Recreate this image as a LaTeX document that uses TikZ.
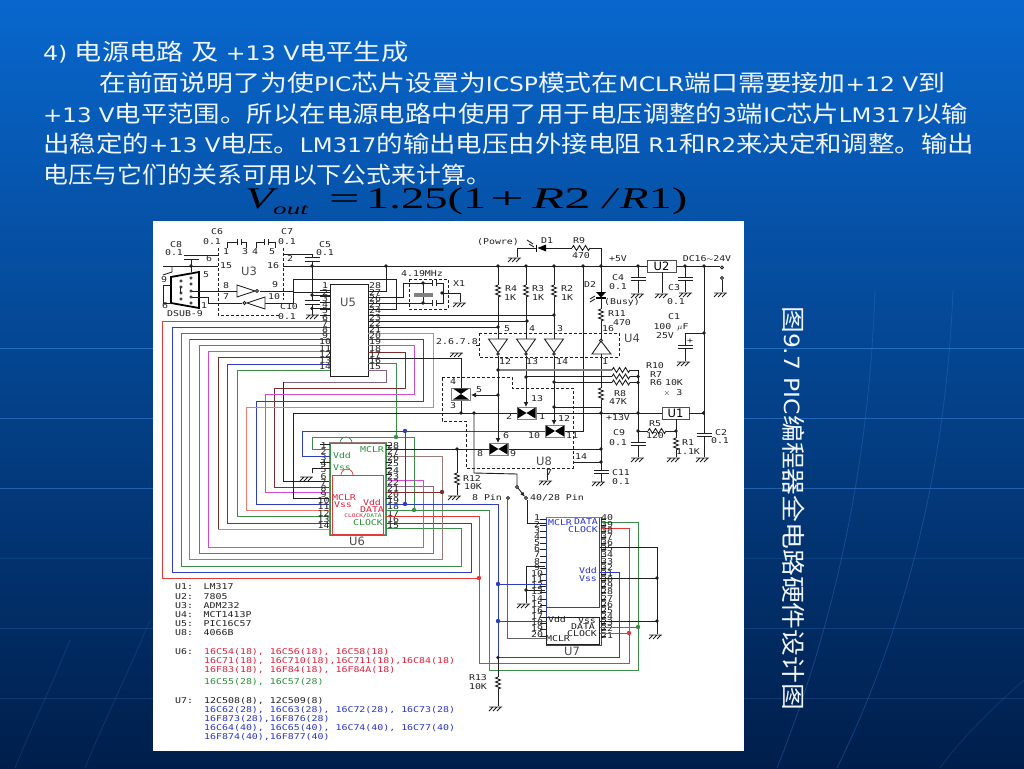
\documentclass[tikz,border=0pt]{standalone}
\usepackage{fontspec}
\usetikzlibrary{arrows.meta}
\setmainfont{DejaVu Sans}
\newfontfamily\cjk{Noto Sans CJK SC}
\newfontfamily\schfont[FakeStretch=1.24]{DejaVu Sans Mono}
\newfontfamily\formfont{Liberation Serif}
\newcommand\zh[1]{{\cjk\fontsize{23}{25}\selectfont #1}}
\newcounter{lb}
\definecolor{wred}{HTML}{E23A3A}
\definecolor{wsalmon}{HTML}{EE7A6E}
\definecolor{wblue}{HTML}{2E3CC0}
\definecolor{wgreen}{HTML}{3A8E48}
\definecolor{wbrown}{HTML}{7A2E2E}
\definecolor{wmauve}{HTML}{8A6488}
\definecolor{wtan}{HTML}{9A7A78}
\definecolor{wmag}{HTML}{D24AD2}
\definecolor{wdark}{HTML}{202020}
\definecolor{tred}{HTML}{E0203C}
\definecolor{tgreen}{HTML}{2A9038}
\definecolor{tblue}{HTML}{2A34C8}
\definecolor{slidetxt}{HTML}{F0F5FB}
\tikzset{
  wire/.style={line width=0.9pt,draw=wdark},
  cw/.style={line width=0.95pt,draw=#1},
  dashbox/.style={line width=0.8pt,draw=wdark,dash pattern=on 3pt off 2pt},
  lbl/.style={font=\schfont\fontsize{8}{8}\selectfont,text=wdark,inner sep=0pt},
  biglbl/.style={font=\fontsize{11.5}{12}\selectfont,text=wdark!80,inner sep=0pt},
  slideline/.style={anchor=base west,inner sep=0pt,text=slidetxt,font=\fontsize{20}{24}\selectfont},
  formula/.style={anchor=base west,inner sep=0pt,text=black,font=\formfont\fontsize{30}{32}\selectfont},
  resv/.pic={\draw[wire] (0,0)--(-2.5,1)--(2.5,3)--(-2.5,5)--(2.5,7)--(-2.5,9)--(2.5,11)--(0,12);},
  resh/.pic={\draw[wire] (0,0)--(1.5,-2.5)--(4.5,2.5)--(7.5,-2.5)--(10.5,2.5)--(13.5,-2.5)--(16.5,2.5)--(18,0);},
  gnd/.pic={\draw[wire] (-6,0)--(7,0) (-6,4)--(-2,0) (-2,4)--(2,0) (2,4)--(6,0);},
  bowh/.pic={\draw[line width=0.8pt,draw=gray,fill=white] (-9.5,-6)rectangle(9.5,6);
     \fill[black] (-9,-5.5)--(0,0)--(-9,5.5)--cycle (9,-5.5)--(0,0)--(9,5.5)--cycle;},
  bowv/.pic={\draw[line width=0.8pt,draw=gray,fill=white] (-9.5,-6)rectangle(9.5,6);
     \fill[black] (-8,-5.5)--(0,0)--(8,-5.5)--cycle (-8,5.5)--(0,0)--(8,5.5)--cycle;},
}
\newcommand\lab[3]{\stepcounter{lb}\node[lbl,name=t\arabic{lb}] at (#1,{#2}) {#3};}
\newcommand\labw[4][wdark]{\stepcounter{lb}\node[lbl,anchor=west,text=#1,name=t\arabic{lb}] at (#2,#3) {#4};}
\newcommand\labc[4]{\stepcounter{lb}\node[lbl,text=#1,name=t\arabic{lb}] at (#2,#3) {#4};}
\newcommand\blab[3]{\stepcounter{lb}\node[biglbl,name=t\arabic{lb}] at (#1,#2) {#3};}
\newcommand\capH[3]{\draw[wire] (#1-7.5,#2)--(#1+7.5,#2) (#1-7.5,#3)--(#1+7.5,#3);}
\newcommand\jn[1]{\foreach \p in {#1} \fill[wdark] \p circle (1.9);}
\begin{document}
\begin{tikzpicture}[x=1pt,y=-1pt]
\useasboundingbox (0,0) rectangle (1024,768);
% slide background
\shade[top color={rgb,255:red,8;green,103;blue,205},middle color={rgb,255:red,0;green,80;blue,160},bottom color={rgb,255:red,0;green,30;blue,75}] (0,0) rectangle (1024,768);
\foreach \yy/\cc/\oo in {348/2F7FD6/0.7,418/2A78CC/0.7,488/2A74C8/0.7,558/1E5C9E/0.4,628/1E5A96/0.5,698/1C5288/0.5}{
  \definecolor{lc}{HTML}{\cc}
  \draw[line width=0.9pt,draw=lc,opacity=\oo] (0,\yy)--(1024,\yy);}
\definecolor{lc}{HTML}{2A74C4}
\draw[line width=0.8pt,draw=lc,opacity=0.4] (875,290) .. controls (868,500) and (820,660) .. (777,768);
\draw[line width=0.8pt,draw=lc,opacity=0.4] (953,290) .. controls (945,500) and (890,660) .. (837,768);
\draw[line width=0.8pt,draw=lc,opacity=0.25] (1024,680) .. controls (990,710) and (960,740) .. (940,768);
\draw[line width=0.8pt,draw=lc,opacity=0.25] (150,620) .. controls (125,680) and (100,730) .. (85,768);
\draw[line width=0.8pt,draw=lc,opacity=0.25] (70,640) .. controls (50,690) and (30,730) .. (15,768);
% slide text
\node[slideline,name=s1] at (43,60) {\resizebox{365pt}{\height}{4) \zh{电源电路} \zh{及} +13 V\zh{电平生成}}};
\node[slideline,name=s2] at (99,91) {\resizebox{846pt}{\height}{\zh{在前面说明了为使}PIC\zh{芯片设置为}ICSP\zh{模式在}MCLR\zh{端口需要接加}+12 V\zh{到}}};
\node[slideline,name=s3] at (43,122) {\resizebox{925pt}{\height}{+13 V\zh{电平范围。所以在电源电路中使用了用于电压调整的}3\zh{端}IC\zh{芯片}LM317\zh{以输}}};
\node[slideline,name=s4] at (43,152.5) {\resizebox{931pt}{\height}{\zh{出稳定的}+13 V\zh{电压。}LM317\zh{的输出电压由外接电阻} R1\zh{和}R2\zh{来决定和调整。输出}}};
\node[slideline,name=s5] at (43,183) {\resizebox{448pt}{\height}{\zh{电压与它们的关系可用以下公式来计算。}}};
% formula
\node[formula,name=f1] at (245,208) {\scalebox{1.55}[1]{\itshape V}};
\node[formula,name=f2,font=\formfont\itshape\fontsize{16}{18}\selectfont] at (273,214) {\scalebox{1.7}[1]{out}};
\node[formula,name=f3] at (329,208) {\scalebox{1.8}[1]{=}};
\node[formula,name=f4] at (366,208) {\scalebox{1.55}[1]{1.25(1}};
\node[formula,name=f5] at (490,208) {\scalebox{2.0}[1]{+}};
\node[formula,name=f6] at (532,208) {\scalebox{1.75}[1]{{\itshape R}2}};
\node[formula,name=f7] at (603,208) {\scalebox{1.55}[1]{\itshape /}};
\node[formula,name=f8] at (620,208) {\scalebox{1.55}[1]{{\itshape R}1)}};
% vertical caption
\node[rotate=-90,anchor=west,inner sep=0pt,text=slidetxt,font=\fontsize{21}{24}\selectfont,name=cap] at (794,306) {\resizebox{404pt}{\height}{{\cjk\fontsize{24}{26}\selectfont 图}9.7 PIC{\cjk\fontsize{24}{26}\selectfont 编程器全电路硬件设计图}}};
% panel
\fill[white] (153,221) rectangle (744,751);

% ---- ICs
\node[draw=wdark,line width=0.9pt,minimum width=38pt,minimum height=92pt,inner sep=0pt,fill=white,name=U5] at (349,330) {};
\blab{348}{302}{U5}
\foreach \i in {1,...,5}{\draw[wire] (320,{290.7+6.1*(\i-1)})--(330,{290.7+6.1*(\i-1)});}
\draw[wire] (368,291)--(378,291);
% left side wires
\draw[cw=wred] (330,321)--(162,321)--(162,578)--(479,578);
\draw[cw=wblue] (330,327.3)--(172,327.3)--(172,572)--(471,572)--(471,523)--(386,523);
\draw[cw=wgreen] (330,333.3)--(181,333.3)--(181,566)--(461,566)--(461,528.5)--(386,528.5);
\draw[cw=wbrown] (330,339.3)--(189,339.3);
\draw[cw=wtan] (189,339.3)--(189,559)--(442,559)--(442,456)--(386,456);
\draw[cw=wmauve] (330,345.7)--(199,345.7)--(199,553)--(433,553)--(433,486)--(386,486);
\draw[cw=wmag] (330,351.7)--(208,351.7)--(208,547)--(423,547)--(423,480)--(386,480);
\draw[cw=wbrown] (330,357.7)--(218,357.7)--(218,529);
\draw[cw=wsalmon] (218,529)--(330,529);
\draw[cw=wblue] (330,364)--(227,364)--(227,523)--(330,523);
\draw[cw=wgreen] (330,370)--(237,370)--(237,516)--(330,516);
% U5 right side wires to U6
\draw[cw=wgreen] (368,363.5)--(396,363.5)--(396,437);
\draw[cw=wmauve] (368,370)--(386,370)--(386,382)--(283,382);
\draw[wire] (283,382)--(283,481)--(330,481);
\draw[cw=wbrown] (368,352)--(405,352)--(405,388)--(274,388)--(274,487)--(330,487);
\draw[cw=wmag] (368,345)--(414,345)--(414,394)--(265,394)--(265,492.5)--(330,492.5);
\draw[cw=wblue] (368,339)--(423,339)--(423,401)--(256,401)--(256,504)--(330,504);
\draw[cw=wsalmon] (368,333)--(433,333)--(433,407)--(246,407)--(246,510)--(330,510);
\draw[wire] (330,498)--(293,498)--(293,413)--(662,413);
\draw[wire] (368,358)--(461,358)--(461,388);
\draw[wire] (368,315)--(554,315) (368,321)--(527,321) (368,327)--(498,327);
% U6
\node[draw=wtan,line width=1.3pt,minimum width=56pt,minimum height=92pt,inner sep=0pt,fill=white,name=U6] at (358,489) {};
\draw[line width=0.9pt,draw=wgreen] (330,443)--(386,443)--(386,535)--(330,535)--cycle;
\draw[line width=1pt,draw=wred] (332,475)--(383.5,475)--(383.5,534)--(332,534)--cycle;
\draw[line width=0.7pt,draw=wgreen] (352,443) arc (180:0:-6) ;
\draw[line width=0.7pt,draw=wred] (353,475) arc (180:0:-6);
\foreach \i in {1,...,14}{\lab{323.5}{445.5+6.15*(\i-1)}{\i}}
\foreach \i in {28,27,...,15}{\lab{393}{445.5+6.15*(28-\i)}{\i}}
\foreach \yy in {445.5,462,468,474,498}{\draw[wire] (386,\yy)--(392,\yy);}
\foreach \yy in {444,462}{\draw[wire] (320,\yy)--(330,\yy);}
\labc{tgreen}{372}{450}{MCLR}
\labc{tgreen}{342}{456}{Vdd}
\labc{tgreen}{342}{468}{Vss}
\labc{tred}{344}{498}{MCLR}
\labc{tred}{343}{505}{Vss}
\labc{tred}{372}{503}{Vdd}
\labc{tred}{372}{510}{DATA}
\stepcounter{lb}\node[lbl,name=t\arabic{lb},font=\schfont\fontsize{5}{5}\selectfont] at (363,516) {\textcolor{tred}{CLOCK}/\textcolor{tgreen}{DATA}};
\labc{tgreen}{368}{523}{CLOCK}
\blab{357}{541}{U6}
% U6 left / right wires
\draw[cw=wgreen] (330,449)--(312,449)--(312,437)--(414,437)--(414,510);
\draw[cw=wblue] (330,456)--(302,456)--(302,431)--(545,431);
\draw[cw=wblue] (405,431)--(405,504);
\draw[wire] (330,468)--(312,468)--(312,473);
\pic at (306,477) {gnd};
\draw[wire] (386,449)--(601,449);
\draw[cw=wbrown] (386,492)--(442,492);
\draw[cw=wblue] (386,504)--(498,504)--(498,657);
\draw[cw=wgreen] (386,510.5)--(489,510.5)--(489,670)--(638,670)--(638,522.7)--(600,522.7);
\draw[cw=wred] (386,516.5)--(479,516.5)--(479,663)--(629,663)--(629,528.5)--(600,528.5);
\foreach \p/\c in {(396,437)/wgreen,(414,510)/wgreen,(405,431)/wblue,(405,504)/wblue,(442,492)/wbrown,(479,578)/wred}{\fill[\c] \p circle (2.2);}
% U5 pin labels
\foreach \i in {1,...,14}{\lab{325}{286+6.23*(\i-1)}{\i}}
\foreach \i in {28,27,...,15}{\lab{375}{286+6.23*(28-\i)}{\i}}
% DSUB + U3
\draw[black,line width=1.8pt,fill=white] (171,277)--(199,272)--(199,308)--(171,303)--cycle;
\foreach \yy in {278,284,291,297,303}{\draw[line width=0.5pt,fill=white] (191,\yy) circle (1.3);}
\foreach \yy in {281,287,293,299}{\draw[line width=0.5pt,fill=white] (181,\yy) circle (1.3);}
\draw[wire] (180,287)--(180,293) (171,285)--(163,285)--(163,303)--(171,303);
\draw[dashbox] (218,248)--(218,315)--(280,315) (283,248)--(283,300);
\lab{217}{232}{C6}\lab{212}{242}{0.1}\lab{287}{232}{C7}\lab{287}{242}{0.1}
\lab{176}{245}{C8}\lab{174}{253}{0.1}\lab{325}{245}{C5}\lab{325}{253}{0.1}
\lab{226}{252}{1}\lab{245}{252}{3}\lab{255}{252}{4}\lab{272}{252}{5}
\lab{290}{259}{2}\lab{209}{259}{6}\lab{226}{266}{15}\lab{273}{266}{16}
\blab{249}{271}{U3}
\lab{226}{286}{8}\lab{275}{285}{9}\lab{226}{297}{7}\lab{274}{297}{10}
\lab{289}{307}{C10}\lab{287}{317}{0.1}\lab{185}{314}{DSUB-9}
\lab{206}{275}{5}\lab{164}{280}{9}\lab{165}{306}{6}\lab{204}{306}{1}
% C6 C7
\draw[wire] (227,248)--(227,242)--(237,242) (237,239)--(237,245) (241,239)--(241,245) (241,242)--(246,242)--(246,248);
\draw[wire] (256,248)--(256,242)--(264,242) (264,239)--(264,245) (268,239)--(268,245) (268,242)--(275,242)--(275,248);
% C8
\capH{191}{255}{259}
\draw[wire] (191,255)--(218,255) (191,259)--(191,272);
\draw[wire] (163,266)--(218,266);
\draw[wire] (172,266)--(172,272) (163,275)--(172,272);
% inverters
\draw[wire] (192,291)--(237,291) (260,291)--(293,291)--(293,279)--(396,279)--(396,309)--(368,309);
\draw[wire,fill=white] (237,285)--(237,297)--(255,291)--cycle;
\draw[wire,fill=white] (257,291) circle (1.5);
\draw[wire] (192,297)--(208,297)--(208,303)--(242,303) (265,303)--(293,303)--(293,292)--(330,292);
\draw[wire,fill=white] (265,297)--(265,309)--(247,303)--cycle;
\draw[wire,fill=white] (244.5,303) circle (1.5);
% C5 C10
\draw[wire] (283,254)--(312,254)--(312,257);
\capH{312}{257}{261}
\draw[wire] (312,261)--(312,300);
\capH{312}{300}{304}
\draw[wire] (312,304)--(312,315);
\pic at (312,315) {gnd};
\draw[wire] (312,295)--(330,295) (312,308.5)--(330,308.5);
\draw[wire] (283,266)--(720,266);
\draw[wire] (386,266)--(386,291)--(368,291);
\jn{(191,266),(312,266),(312,295),(312,308.5),(386,266)}
% crystal
\draw[dashbox] (409,279) rectangle (448,309);
\lab{422}{274}{4.19MHz}
\draw[wire] (368,297)--(403,297)--(403,283)--(424,283);
\draw[wire] (368,303)--(424,303);
\draw[wire] (423,283)--(423,303);
\fill[gray] (414,293) rectangle (433,297);
\draw[wire] (423,283)--(432,283) (432,280)--(432,286) (436,280)--(436,286) (436,283)--(443,283)--(443,303)--(436,303) (436,300)--(436,306) (432,300)--(432,306) (432,303)--(423,303);
\draw[wire] (443,293)--(460,293)--(460,302);
\pic at (459,303) {gnd};
\jn{(423,283),(423,303),(442,293)}
\lab{459}{284}{X1}
% +5V section
\lab{498}{242}{(Powre)}\lab{547}{241}{D1}\lab{579}{241}{R9}\lab{581}{256}{470}\lab{618}{259}{+5V}
\draw[wire] (517,257)--(517,248)--(536,248) (546,248)--(572,248);
\pic at (514,258) {gnd};
\fill[black] (546,244.5)--(546,251.5)--(537.5,248)--cycle;
\draw[black,line width=1.2pt] (536.5,244.5)--(536.5,251.5);
\draw[wire] (527,240)--(533,244) (529,244)--(534,247);
\pic at (572,248) {resh};
\draw[wire] (590,248)--(601,248)--(601,292);
\fill[black] (596,292)--(606,292)--(601,297.5)--cycle;
\draw[black,line width=1.2pt] (596,298)--(606,298);
\draw[wire] (601,298)--(601,309);
\draw[wire] (590,299)--(595,296) (590,302)--(595,299);
\pic at (601,309) {resv};
\draw[wire] (601,321)--(601,340);
\draw[wire,fill=white] (592,354)--(611,354)--(601,341)--cycle;
\draw[wire,fill=white] (601,340.5) circle (1.5);
\draw[wire] (601,354)--(601,388);
\pic at (601,388) {resv};
\draw[wire] (601,400)--(601,470);
\lab{590}{285}{D2}\lab{618}{287}{0.1}\lab{618}{278}{C4}\lab{622}{302}{(Busy)}\lab{617}{314}{R11}\lab{622}{323}{470}\lab{608}{329}{16}
\blab{632}{338}{U4}\lab{605}{362}{1}
% resistors R4 R3 R2
\foreach \xx in {498,526,554}{
  \draw[wire] (\xx,266)--(\xx,285);
  \pic at (\xx,285) {resv};
  \draw[wire] (\xx,297)--(\xx,339);
  \draw[wire,fill=white] (\xx-9.5,339)--(\xx+9.5,339)--(\xx,352.5)--cycle;
  \draw[wire,fill=white] (\xx,354) circle (1.3);
}
\lab{511}{289}{R4}\lab{510}{298}{1K}\lab{538}{289}{R3}\lab{538}{298}{1K}\lab{567}{289}{R2}\lab{567}{298}{1K}
\jn{(498,266),(526,266),(554,266),(583,266),(601,266),(638,266),(685,266),(704,266),(498,327),(527,321),(554,315)}
\draw[wire] (583,266)--(583,431)--(565,431);
% U4 dashed
\draw[dashbox] (479,333)--(619,333) (619,333)--(619,357)--(479,357)--(479,333);
\lab{507}{329}{5}\lab{532}{329}{4}\lab{560}{329}{3}\lab{505}{362}{12}\lab{532}{362}{13}\lab{562}{362}{14}
\lab{457}{342}{2.6.7.8}
\draw[wire] (479,345)--(476,345);
\pic at (456,353) {gnd};
% switch drive lines
\draw[-{Latex[length=5pt,width=5pt]},wire] (498,356)--(498,443);
\draw[-{Latex[length=5pt,width=5pt]},wire] (526,356)--(526,407);
\draw[-{Latex[length=5pt,width=5pt]},wire] (554,356)--(554,425);
\draw[-{Latex[length=5pt,width=5pt]},wire] (498,395)--(471,395);
\draw[wire] (554,407)--(601,407);
\draw[line width=1.1pt,draw=gray] (498,370)--(612,370);
\draw[wire] (526,376.5)--(612,376.5) (554,382)--(612,382);
\pic at (612,370) {resh};
\pic at (612,376.5) {resh};
\pic at (612,382.5) {resh};
\draw[wire] (630,370)--(638,370)--(638,442) (630,376.5)--(638,376.5) (630,382.5)--(638,382.5);
\jn{(498,370),(526,377),(554,382),(554,407),(498,395),(638,376.5),(638,382.5),(601,413),(638,413),(461,413),(474,413),(601,449),(601,462)}
% switches
\draw[wire] (461,400)--(461,413);
\pic at (461,394) {bowv};
\pic at (526.5,413) {bowh};
\pic at (555,431) {bowh};
\pic at (498.5,449) {bowh};
% U8 dashed
\draw[dashbox] (442,377)--(512,377)--(512,388)--(573,388)--(573,468)--(466,468)--(466,421)--(442,421)--cycle;
\blab{544}{461}{U8}\lab{581}{457}{14}\lab{549}{473}{7}
\draw[wire] (573,462)--(601,462) (547,468)--(547,480);
\pic at (545,481) {gnd};
\lab{537}{399}{13}\lab{509}{417}{2}\lab{542}{417}{1}\lab{564}{419}{12}\lab{534}{436}{10}\lab{572}{436}{11}\lab{506}{436}{6}\lab{480}{454}{8}\lab{513}{454}{9}\lab{453}{382}{4}\lab{453}{406}{3}\lab{479}{390}{5}
% R12
\draw[wire] (457,449)--(457,473) (457,485)--(457,495);
\pic at (457,473) {resv};
\pic at (454,496) {gnd};
\jn{(457,449)}
\lab{472}{479}{R12}\lab{473}{487}{10K}
% mode switch
\draw[wire] (474,413)--(474,473)--(517,474)--(517,486);
\draw[wire,fill=white] (517,487) circle (1.5);
\draw[-{Latex[length=5pt,width=4pt]},wire] (518,488)--(525,497);
\draw[wire,fill=white] (508,498) circle (1.5);
\draw[wire,fill=white] (526,498) circle (1.5);
\lab{487}{498}{8 Pin}\lab{557}{498}{40/28 Pin}
\draw[line width=0.9pt,draw=wdark!70] (507.5,499.5)--(507.5,638)--(547,638);
\draw[wire] (527,499.5)--(527,523)--(547,523);
% right section
\node[draw=wdark!80,line width=1pt,minimum width=29pt,minimum height=12pt,inner sep=0pt,fill=white,name=U2,font=\fontsize{11.5}{12}\selectfont] at (661.5,266) {U2};
\node[draw=wdark!80,line width=1pt,minimum width=27pt,minimum height=12pt,inner sep=0pt,fill=white,name=U1,font=\fontsize{11.5}{12}\selectfont] at (675.5,413) {U1};
\lab{707}{259}{DC16$\sim$24V}
\draw[wire,fill=white] (722,267.5) circle (1.5);
\draw[wire,fill=white] (722,278) circle (1.5);
\draw[wire] (722,279.5)--(722,292);
\pic at (720,293) {gnd};
\draw[wire] (638,266)--(638,277) (638,280)--(638,293);
\capH{638}{277}{280}
\pic at (637,294) {gnd};
\draw[wire] (662,272)--(662,293);
\pic at (661,294) {gnd};
\draw[wire] (685,266)--(685,277) (685,280)--(685,292);
\capH{685}{277}{280}
\pic at (685,293) {gnd};
\lab{674}{288}{C3}\lab{676}{302}{0.1}\lab{674}{317}{C1}\lab{671}{327}{100 $\mu$F}\lab{665}{336}{25V}
\draw[wire] (704,266)--(704,433);
\draw[wire] (704,333)--(685,333)--(685,345) (685,348)--(685,361);
\capH{685}{345}{348.5}
\lab{690}{341}{+}
\pic at (683,362) {gnd};
\jn{(704,333),(703.5,413)}
\lab{655}{366}{R10}\lab{656}{375}{R7}\lab{656}{383}{R6}\lab{674}{383}{10K}\lab{673}{393}{$\times$ 3}
\lab{620}{394}{R8}\lab{618}{402}{47K}\lab{618}{418}{+13V}
\lab{619}{433}{C9}\lab{618}{443}{0.1}\lab{655}{424}{R5}\lab{655}{436}{120}\lab{688}{443}{R1}\lab{688}{452}{1.1K}
\lab{721}{433}{C2}\lab{720}{441}{0.1}\lab{621}{473}{C11}\lab{621}{482}{0.1}
\draw[wire] (689,413)--(704,413);
\capH{704}{433}{436}
\draw[wire] (704,436)--(704,457);
\pic at (702,458) {gnd};
\capH{638}{442}{445}
\draw[wire] (638,445)--(638,457);
\pic at (637,458) {gnd};
\draw[wire] (638,431)--(648,431);
\pic at (648,431) {resh};
\draw[wire] (666,431)--(676,431) (676,419)--(676,438) (676,450)--(676,457);
\pic at (676,438) {resv};
\pic at (673,458) {gnd};
\jn{(638,431),(676,431)}
\capH{601}{470}{473}
\draw[wire] (601,473)--(601,482);
\pic at (598,482) {gnd};
% U7
\node[draw=wblue,line width=1pt,minimum width=55pt,minimum height=128pt,inner sep=0pt,fill=white,name=U7] at (573.5,581) {};
\draw[line width=1.8pt,draw=wblue!70] (546,517.5)--(601,517.5);
\draw[line width=0.9pt,draw=wblue] (546,607)--(599,607)--(599,517.5);
\draw[line width=1pt,draw=wdark] (546,617)--(599,617)--(599,644)--(546,644)--cycle;
\foreach \i in {1,...,20}{
  \draw[wire] (540,{519+6.16*(\i-1)})--(546,{519+6.16*(\i-1)});
  \lab{537}{518+6.16*(\i-1)}{\i}}
\foreach \i in {40,39,...,21}{
  \draw[wire] (601,{519+6.16*(40-\i)})--(606,{519+6.16*(40-\i)});
  \lab{607}{518+6.16*(40-\i)}{\i}}
\labc{tblue}{560}{523}{MCLR}\labc{tblue}{586}{522}{DATA}\labc{tblue}{583}{530}{CLOCK}
\labc{tblue}{588}{571}{Vdd}\labc{tblue}{588}{579}{Vss}
\lab{557}{620}{Vdd}\lab{587}{620.5}{Vss}\lab{583}{626.5}{DATA}\lab{582}{634}{CLOCK}\lab{558}{639}{MCLR}
\blab{572}{651}{U7}
% U7 wires
\draw[wire] (600,547)--(657,547)--(657,634) (600,578)--(657,578) (600,621)--(657,621);
\pic at (655,635) {gnd};
\jn{(657,578),(657,621)}
\draw[cw=wgreen] (600,627)--(638,627);
\draw[cw=wred] (600,633)--(629,633);
\fill[wgreen] (638,627) circle (2.2);
\fill[wred] (629,633) circle (2.2);
\draw[wire] (545,566)--(526,566)--(526,603) (526,590)--(545,590);
\pic at (523,604) {gnd};
\jn{(526,590)}
\draw[cw=wblue] (498,584)--(547,584) (498,621)--(547,621);
\draw[cw=wblue] (498,657)--(619,657)--(619,572)--(600,572);
\fill[wblue] (498,584) circle (2.2);
\fill[wblue] (498,621) circle (2.2);
\draw[wire] (498,657)--(498,677) (498,689)--(498,706);
\pic at (498,677) {resv};
\pic at (495,707) {gnd};
\jn{(498,657.5)}
\lab{478}{678}{R13}\lab{478}{687}{10K}
% parts list
\foreach \yy/\a/\b in {587/U1:/LM317,597/U2:/7805,606/U3:/ADM232,615/U4:/MCT1413P,624/U5:/PIC16C57,633/U8:/4066B}{
  \labw{175}{\yy}{\a}\labw{203.5}{\yy}{\b}}
\labw{175}{652}{U6:}\labw{175}{701}{U7:}
\labw[tred]{204}{652}{16C54(18), 16C56(18), 16C58(18)}
\labw[tred]{204}{661}{16C71(18), 16C710(18),16C711(18),16C84(18)}
\labw[tred]{204}{670}{16F83(18), 16F84(18), 16F84A(18)}
\labw[tgreen]{204}{682}{16C55(28), 16C57(28)}
\labw{204}{701}{12C508(8), 12C509(8)}
\labw[tblue]{204}{710}{16C62(28), 16C63(28), 16C72(28), 16C73(28)}
\labw[tblue]{204}{719}{16F873(28),16F876(28)}
\labw[tblue]{204}{728}{16C64(40), 16C65(40), 16C74(40), 16C77(40)}
\labw[tblue]{204}{737}{16F874(40),16F877(40)}
\end{tikzpicture}
\end{document}
